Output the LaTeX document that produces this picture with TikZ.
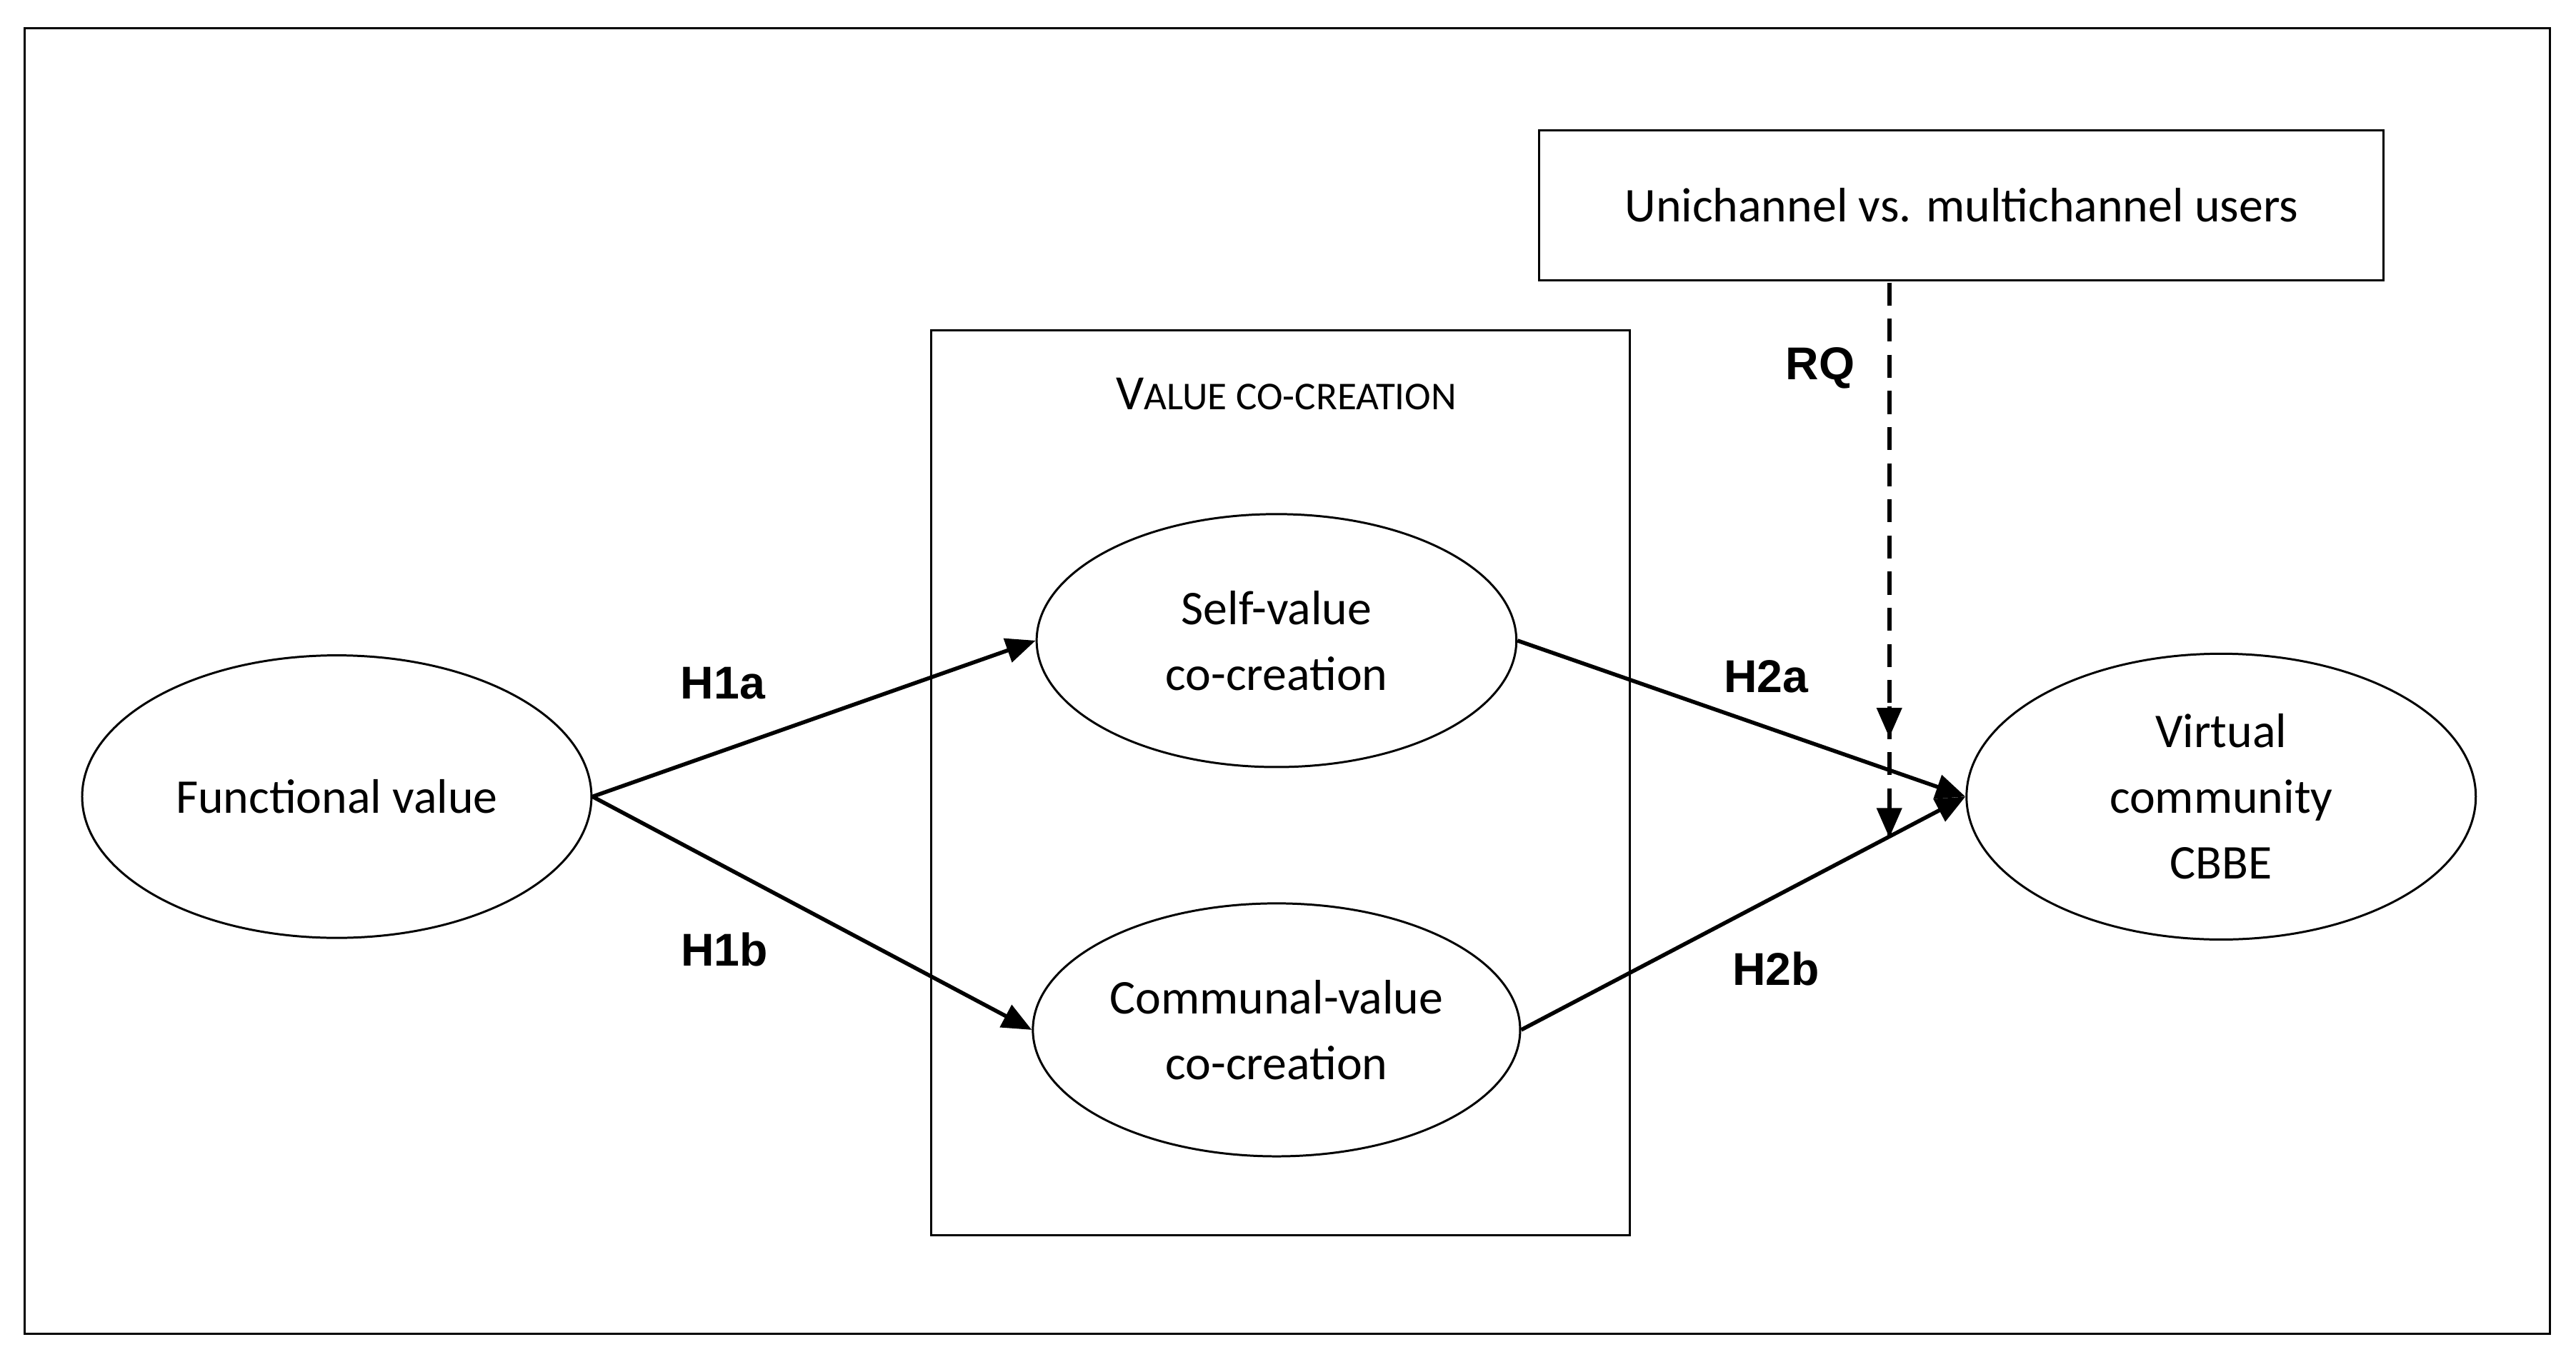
\documentclass[tikz,border=0pt]{standalone}
\usepackage{fontspec}
\setmainfont{Carlito}
\newfontfamily\hfont{Liberation Sans}
\usetikzlibrary{shapes.geometric,arrows.meta}
\begin{document}
\begin{tikzpicture}[x=1pt,y=-1pt,line width=1.3pt,
  construct/.style={draw,ellipse,line width=1.3pt,minimum width=292pt,minimum height=154pt,align=center,font=\fontsize{29.5}{40}\selectfont},
  path/.style={-{Triangle[length=18pt,width=15pt]},line width=2.4pt},
  hyp/.style={font=\hfont\bfseries\fontsize{28}{32}\selectfont}]
\useasboundingbox (0,0) rectangle (1568,829);
\draw (15,17) rectangle (1552,812);
% moderator and group box
\node[draw,minimum width=514pt,minimum height=91pt,font=\fontsize{29.5}{36}\selectfont] (mod) at (1194,125) {Unichannel vs. multichannel users};
\draw (567,201) rectangle (992,752);
\node[font=\fontsize{30}{36}\selectfont] (vcc) at (783,240) {V{\fontsize{24}{28}\selectfont ALUE CO-CREATION}};
% constructs
\node[construct,minimum width=310pt,minimum height=172pt] (fv) at (205,485) {Functional value};
\node[construct] (scv) at (777,390) {Self-value\\co-creation};
\node[construct] (ccv) at (777,627) {Communal-value\\co-creation};
\node[construct,minimum width=310pt,minimum height=174pt] (vc) at (1352,485) {Virtual\\community\\CBBE};
% paths
\draw[path] (fv.east) -- (scv.west);
\draw[path] (fv.east) -- (ccv.west);
\draw[path] (scv.east) -- (vc.west);
\draw[path] (ccv.east) -- (vc.west);
\coordinate (rqa) at (1150,449);
\coordinate (rqb) at (1150,510);
\draw[dashed,line width=2.4pt,dash pattern=on 14pt off 8pt] (1150,172) -- (rqb);
\draw[path] (1150,430) -- (rqa);
\draw[path] (1150,490) -- (rqb);
% labels
\node[hyp] (h1a) at (440,416) {H1a};
\node[hyp] (h1b) at (441,578) {H1b};
\node[hyp] (h2a) at (1075,412) {H2a};
\node[hyp] (h2b) at (1081,590) {H2b};
\node[hyp] (rq) at (1108,224) {RQ};
\end{tikzpicture}
\end{document}
